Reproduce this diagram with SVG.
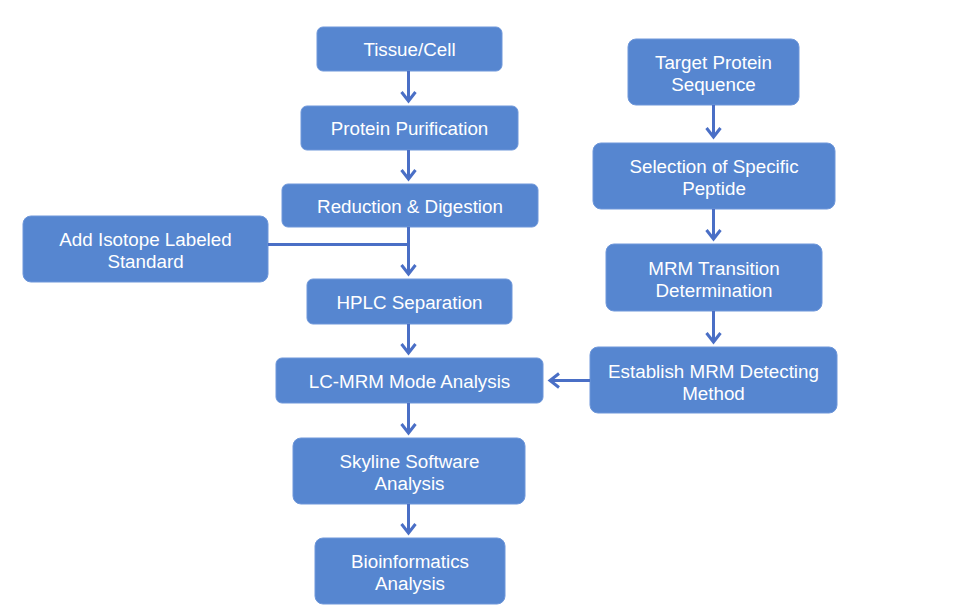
<svg xmlns="http://www.w3.org/2000/svg" width="969" height="613" viewBox="0 0 969 613">
<style>
.box{fill:#5686D0;stroke:#6E97DA;stroke-width:1}
.t{font-family:"Liberation Sans",Arial,sans-serif;font-size:18.8px;fill:#FFFFFF;text-anchor:middle}
.c{stroke:#4A6FC6;stroke-width:3;fill:none}
.h{stroke:#4A6FC6;stroke-width:3;fill:none;stroke-linecap:butt;stroke-linejoin:miter}
</style>
<rect width="969" height="613" fill="#FFFFFF"/>
<g id="n1"><rect class="box" x="317" y="27" width="185" height="44" rx="6"/><text class="t" x="409.5" y="56">Tissue/Cell</text></g>
<g id="n2"><rect class="box" x="301" y="106" width="217" height="44" rx="6"/><text class="t" x="409.5" y="135">Protein Purification</text></g>
<g id="n3"><rect class="box" x="282" y="184" width="256" height="43" rx="6"/><text class="t" x="410" y="213">Reduction &amp; Digestion</text></g>
<g id="n4"><rect class="box" x="23" y="216" width="245" height="66" rx="8"/><text class="t" x="145.5" y="246">Add Isotope Labeled</text><text class="t" x="145.5" y="268">Standard</text></g>
<g id="n5"><rect class="box" x="307" y="279" width="205" height="45" rx="6"/><text class="t" x="409.5" y="309">HPLC Separation</text></g>
<g id="n6"><rect class="box" x="276" y="358" width="267" height="45" rx="6"/><text class="t" x="409.5" y="388">LC-MRM Mode Analysis</text></g>
<g id="n7"><rect class="box" x="293" y="438" width="232" height="66" rx="8"/><text class="t" x="409.5" y="468">Skyline Software</text><text class="t" x="409.5" y="490">Analysis</text></g>
<g id="n8"><rect class="box" x="315" y="538" width="190" height="66" rx="8"/><text class="t" x="410" y="568">Bioinformatics</text><text class="t" x="410" y="590">Analysis</text></g>
<g id="n9"><rect class="box" x="628" y="39" width="171" height="66" rx="8"/><text class="t" x="713.5" y="69">Target Protein</text><text class="t" x="713.5" y="91">Sequence</text></g>
<g id="n10"><rect class="box" x="593" y="143" width="242" height="66" rx="8"/><text class="t" x="714" y="173">Selection of Specific</text><text class="t" x="714" y="195">Peptide</text></g>
<g id="n11"><rect class="box" x="606" y="244" width="216" height="67" rx="8"/><text class="t" x="714" y="275">MRM Transition</text><text class="t" x="714" y="297">Determination</text></g>
<g id="n12"><rect class="box" x="590" y="347" width="247" height="66" rx="8"/><text class="t" x="713.5" y="378">Establish MRM Detecting</text><text class="t" x="713.5" y="400">Method</text></g>
<g id="connectors">
<line class="c" x1="408.5" y1="71" x2="408.5" y2="101"/><polyline class="h" points="401.5,92 408.5,101 415.5,92"/>
<line class="c" x1="408.5" y1="150" x2="408.5" y2="179"/><polyline class="h" points="401.5,170 408.5,179 415.5,170"/>
<line class="c" x1="408.5" y1="227" x2="408.5" y2="274"/><polyline class="h" points="401.5,265 408.5,274 415.5,265"/>
<line class="c" x1="268" y1="244.5" x2="408.5" y2="244.5"/>
<line class="c" x1="408.5" y1="324" x2="408.5" y2="353"/><polyline class="h" points="401.5,344 408.5,353 415.5,344"/>
<line class="c" x1="408.5" y1="403" x2="408.5" y2="433"/><polyline class="h" points="401.5,424 408.5,433 415.5,424"/>
<line class="c" x1="408.5" y1="504" x2="408.5" y2="533"/><polyline class="h" points="401.5,524 408.5,533 415.5,524"/>
<line class="c" x1="713.5" y1="105" x2="713.5" y2="137"/><polyline class="h" points="706.5,128 713.5,137 720.5,128"/>
<line class="c" x1="713.5" y1="209" x2="713.5" y2="239"/><polyline class="h" points="706.5,230 713.5,239 720.5,230"/>
<line class="c" x1="713.5" y1="311" x2="713.5" y2="342"/><polyline class="h" points="706.5,333 713.5,342 720.5,333"/>
<line class="c" x1="590" y1="380.5" x2="550" y2="380.5"/><polyline class="h" points="559,373.5 550,380.5 559,387.5"/>
</g>
</svg>
